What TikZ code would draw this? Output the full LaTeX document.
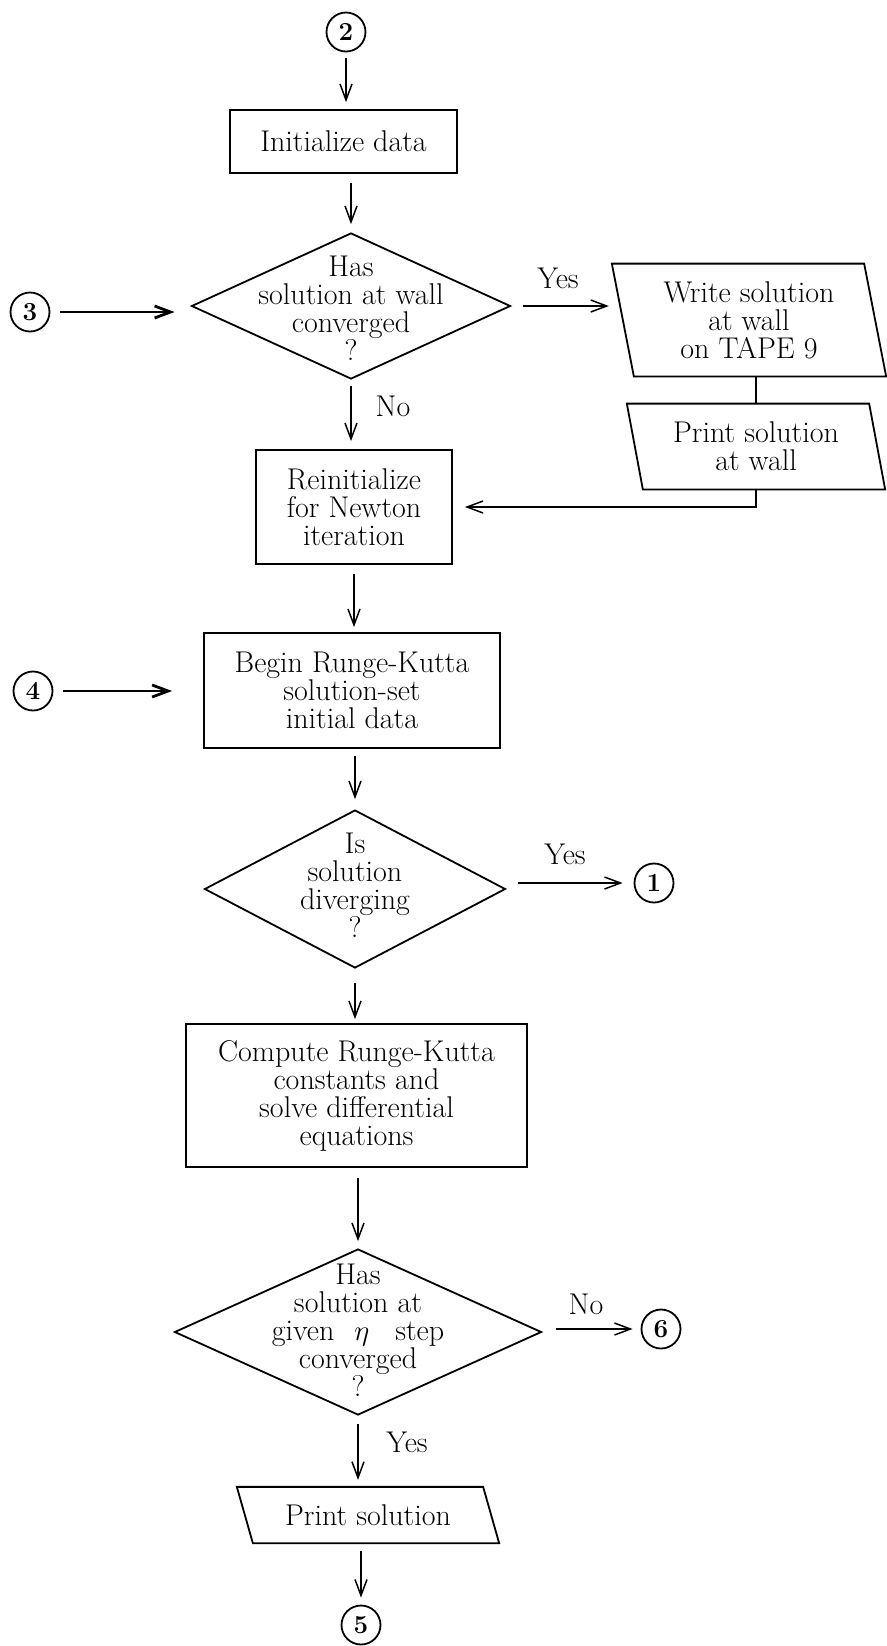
\documentclass[tikz,border=0pt]{standalone}
\usetikzlibrary{shapes.geometric,arrows.meta}
\begin{document}
\begin{tikzpicture}[x=0.5pt,y=-0.5pt,
  every node/.style={font=\fontsize{15}{14}\selectfont},
  box/.style={draw, rectangle, line width=0.9pt, inner sep=0pt, align=center},
  dia/.style={draw, diamond, line width=0.9pt, inner sep=0pt},
  qtext/.style={align=center, inner sep=0pt},
  iotext/.style={rectangle, inner sep=0pt, align=center},
  iobox/.style={line width=0.9pt},
  conn/.style={draw, circle, line width=0.9pt, inner sep=0pt, minimum size=19.5pt,
    font=\fontsize{13}{13}\selectfont\bfseries},
  arr/.style={line width=0.75pt, -{Straight Barb[length=8pt,width=6pt]}},
  heavy/.style={arr, line width=1.4pt},
  lbl/.style={inner sep=0pt}
]
\useasboundingbox (0,0) rectangle (887,1646);

% ---- main column ----
\node[conn] (c2) at (346,32) {2};
\node[box, minimum width=113.5pt, minimum height=31.5pt] (init) at (343.5,141.5) {Initialize data};

\node[dia, minimum width=159.5pt, minimum height=73pt] (d1) at (351,306) {};
\node[qtext] (d1t) at (351,308) {Has\\solution at wall\\converged\\?};

\node[box, minimum width=98pt, minimum height=57pt] (rein) at (354,507) {Reinitialize\\for Newton\\iteration};

\node[box, minimum width=148pt, minimum height=57.5pt] (begin) at (352,690.5) {Begin Runge-Kutta\\solution-set\\initial data};

\node[dia, minimum width=150.5pt, minimum height=79pt] (d2) at (355,889) {};
\node[qtext] (d2t) at (355,885) {Is\\solution\\diverging\\?};

\node[box, minimum width=170.5pt, minimum height=71.5pt] (comp) at (356.5,1095.5) {Compute Runge-Kutta\\constants and\\solve differential\\equations};

\node[dia, minimum width=183.5pt, minimum height=83pt] (d3) at (358,1332) {};
\node[qtext] (d3t) at (358,1330) {Has\\solution at\\given\hspace{10pt}$\eta$\hspace{13pt}step\\converged\\?};

\node[iotext, minimum width=122.75pt, minimum height=27.75pt] (pr) at (368,1515) {Print solution};
\draw[iobox] ([xshift=-4pt]pr.north west) -- ([xshift=-4pt]pr.north east)
  -- ([xshift=4pt]pr.south east) -- ([xshift=4pt]pr.south west) -- cycle;

\node[conn] (c5) at (361,1625) {5};

% ---- entry connectors ----
\node[conn] (c3) at (30,312) {3};
\node[conn] (c4) at (33,691) {4};

% ---- exits ----
\node[conn] (c1) at (654,883) {1};
\node[conn] (c6) at (661,1329) {6};

% ---- right-hand output blocks ----
\node[iotext, minimum width=125.75pt, minimum height=56pt] (wr) at (749,320) {Write solution\\at wall\\on TAPE 9};
\draw[iobox] ([xshift=-5.5pt]wr.north west) -- ([xshift=-5.5pt]wr.north east)
  -- ([xshift=5.5pt]wr.south east) -- ([xshift=5.5pt]wr.south west) -- cycle;

\node[iotext, minimum width=120.75pt, minimum height=42.5pt] (pw) at (756,446.5) {Print solution\\at wall};
\draw[iobox] ([xshift=-4pt]pw.north west) -- ([xshift=-4pt]pw.north east)
  -- ([xshift=4pt]pw.south east) -- ([xshift=4pt]pw.south west) -- cycle;

% ---- flow lines ----
\draw[arr, shorten <=3pt, shorten >=3.5pt] (c2.south) -- (c2.south |- init.north);
\draw[arr, shorten <=4.5pt, shorten >=4pt] (init.south -| d1.north) -- (d1.north);
\draw[heavy, shorten <=5pt, shorten >=8pt] (c3.east) -- (c3.east -| d1.west);
\draw[arr, shorten <=6pt, shorten >=7pt] (d1.east) -- (d1.east -| wr.west);
\node[lbl] (yes1) at (558,278) {Yes};
\draw[arr, shorten <=3pt, shorten >=4pt] (d1.south) -- (d1.south |- rein.north);
\node[lbl] (no1) at (393,406) {No};

\draw[line width=0.9pt] (wr.south -| pw.north) -- (pw.north);
\draw[arr, shorten >=6pt] (pw.south) |- (rein.east);

\draw[arr, shorten <=4.5pt, shorten >=2.5pt] (rein.south) -- (rein.south |- begin.north);
\draw[heavy, shorten <=5pt, shorten >=15.5pt] (c4.east) -- (c4.east -| begin.west);
\draw[arr, shorten <=3.5pt, shorten >=5pt] (begin.south -| d2.north) -- (d2.north);

\draw[arr, shorten <=6pt, shorten >=5.5pt] (d2.east |- c1.west) -- (c1.west);
\node[lbl] (yes2) at (565,854) {Yes};
\draw[arr, shorten <=7pt, shorten >=2pt] (d2.south) -- (d2.south |- comp.north);

\draw[arr, shorten <=5pt, shorten >=3.5pt] (comp.south -| d3.north) -- (d3.north);
\draw[arr, shorten <=7pt, shorten >=4pt] (d3.east |- c6.west) -- (c6.west);
\node[lbl] (no2) at (586,1304) {No};
\draw[arr, shorten <=4pt, shorten >=3.5pt] (d3.south) -- (d3.south |- pr.north);
\node[lbl] (yes3) at (407,1442) {Yes};

\draw[arr, shorten <=4pt, shorten >=3.5pt] (pr.south -| c5.north) -- (c5.north);
\end{tikzpicture}
\end{document}
